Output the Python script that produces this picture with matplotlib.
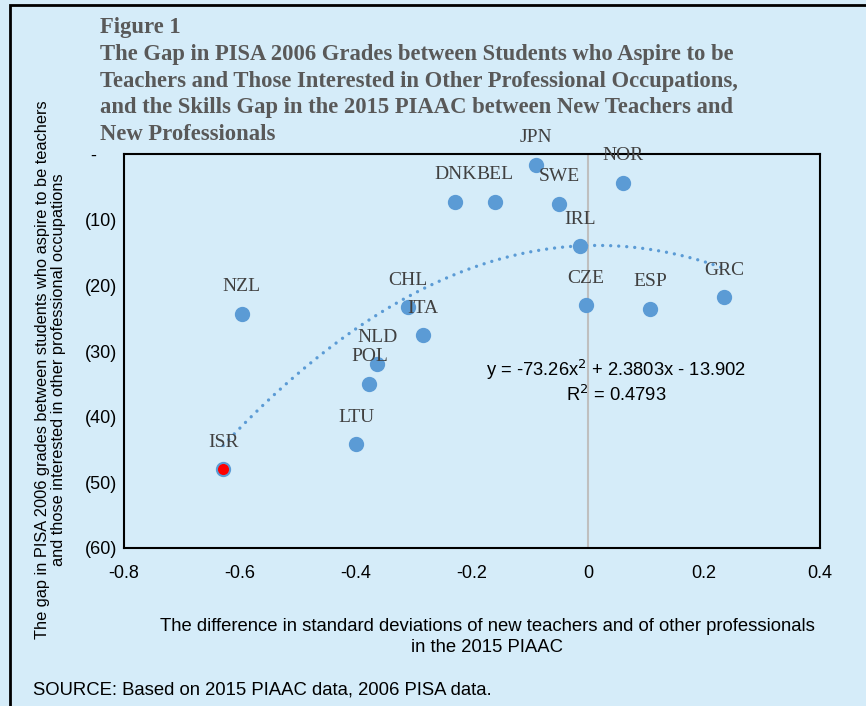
import numpy as np
import matplotlib
matplotlib.use("Agg")
import matplotlib.pyplot as plt
from matplotlib.patches import Rectangle

# data
countries = ["JPN", "NOR", "DNK", "BEL", "SWE", "IRL", "CZE", "ESP", "GRC",
             "NZL", "CHL", "ITA", "NLD", "POL", "LTU", "ISR"]
piaac_diff = [-0.089, 0.060, -0.229, -0.160, -0.050, -0.013, -0.004, 0.107, 0.235,
              -0.597, -0.310, -0.284, -0.363, -0.377, -0.400, -0.629]
pisa_gap = [-1.6, -4.3, -7.2, -7.2, -7.5, -14.0, -23.0, -23.5, -21.8,
            -24.3, -23.3, -27.6, -32.0, -35.0, -44.2, -48.0]
highlight = "ISR"

# polynomial trend line as printed on the chart
trend_coef = [-73.26, 2.3803, -13.902]
trend_r2 = 0.4793

x_ticks = [-0.8, -0.6, -0.4, -0.2, 0, 0.2, 0.4]
x_ticklabels = ["-0.8", "-0.6", "-0.4", "-0.2", "0", "0.2", "0.4"]
y_ticks = [0, -10, -20, -30, -40, -50, -60]
y_ticklabels = ["-    ", "(10)", "(20)", "(30)", "(40)", "(50)", "(60)"]

title_lines = [
    "Figure 1",
    "The Gap in PISA 2006 Grades between Students who Aspire to be",
    "Teachers and Those Interested in Other Professional Occupations,",
    "and the Skills Gap in the 2015 PIAAC between New Teachers and",
    "New Professionals",
]

bg = "#D5ECF9"
blue = "#5B9BD5"

fig = plt.figure(figsize=(8.66, 7.06), dpi=100, facecolor=bg)
# outer frame, cut off at the right and bottom like the source image
fig.patches.append(Rectangle((10 / 866, -0.1), 1.2, 1.1 - 5 / 706,
                             transform=fig.transFigure, fill=False,
                             edgecolor="black", linewidth=2))

ax = fig.add_axes([0.1432, 0.2238, 0.8037, 0.5576])
ax.set_facecolor(bg)
for s in ax.spines.values():
    s.set_linewidth(1.5)
    s.set_color("black")

ax.axvline(0, color="#BFBFBF", linewidth=1.5, zorder=1)

# trend line over the span of the data
xs = np.linspace(min(piaac_diff), max(piaac_diff), 300)
ax.plot(xs, np.polyval(trend_coef, xs), color=blue, linewidth=2.4,
        linestyle=(0, (0.01, 2.4)), dash_capstyle="round", zorder=2)

for name, x, y in zip(countries, piaac_diff, pisa_gap):
    face = "#FF0000" if name == highlight else blue
    ax.plot(x, y, "o", markersize=9.5, markerfacecolor=face,
            markeredgecolor=blue, markeredgewidth=1.5, zorder=3)
    ax.annotate(name, (x, y), xytext=(0, 19.5), textcoords="offset points",
                ha="center", va="center", fontsize=14, color="#404040",
                family="Liberation Serif", zorder=4)

eq = "y = -73.26x$^2$ + 2.3803x - 13.902"
ax.text(0.048, -32.9, eq, ha="center", va="center", fontsize=13.2,
        family="Liberation Sans", color="black")
ax.text(0.048, -36.7, "R$^2$ = %.4f" % trend_r2, ha="center", va="center",
        fontsize=13.2, family="Liberation Sans", color="black")

ax.set_xlim(-0.8, 0.4)
ax.set_ylim(-60, 0)
ax.set_xticks(x_ticks)
ax.set_xticklabels(x_ticklabels)
ax.set_yticks(y_ticks)
ax.set_yticklabels(y_ticklabels)
ax.tick_params(length=0, labelsize=13)
ax.tick_params(axis="y", pad=5)
ax.tick_params(axis="x", pad=12)
for lab in ax.get_xticklabels() + ax.get_yticklabels():
    lab.set_family("Liberation Sans")

fig.text(487 / 866, 1 - 637 / 706,
         "The difference in standard deviations of new teachers and of other professionals\n"
         "in the 2015 PIAAC", ha="center", va="center", fontsize=13.3,
         family="Liberation Sans", linespacing=1.3)
fig.text(0.058, 1 - 370 / 706,
         "The gap in PISA 2006 grades between students who aspire to be teachers\n"
         "and those interested in other professional occupations",
         rotation=90, ha="center", va="center", fontsize=11.8,
         family="Liberation Sans", linespacing=1.05)

# title, one text per line so the short last line keeps a tight box
for i, line in enumerate(title_lines):
    fig.text(100 / 866, 1 - (33 + 26.75 * i) / 706, line,
             ha="left", va="baseline", fontsize=16.3, fontweight="bold",
             color="#595959", family="Liberation Serif")

fig.text(33 / 866, 1 - 690 / 706, "SOURCE: Based on 2015 PIAAC data, 2006 PISA data.",
         ha="left", va="center", fontsize=13.3, family="Liberation Sans")

fig.savefig("out.png", dpi=100, facecolor=bg)
